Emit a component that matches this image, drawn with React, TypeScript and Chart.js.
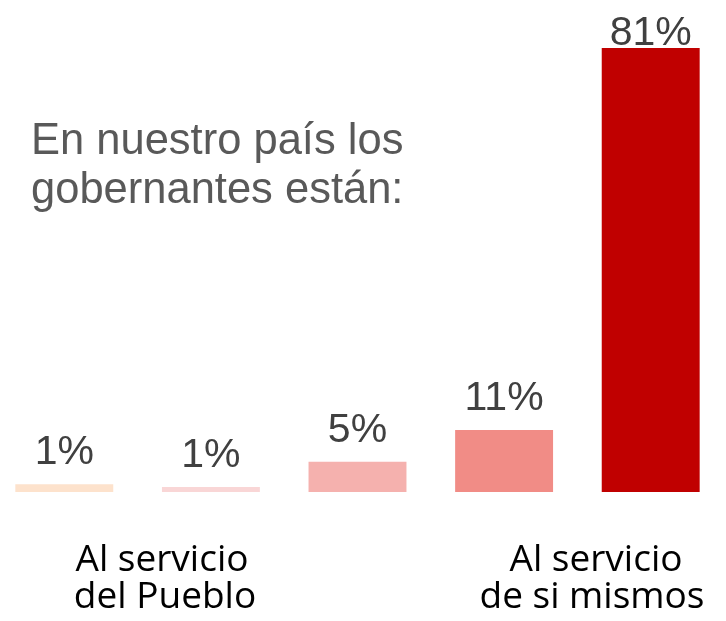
import React, { useEffect, useRef } from "react";
import { Chart, registerables } from "chart.js";

Chart.register(...registerables);

const categories = ["c1", "c2", "c3", "c4", "c5"];
const values = [1.4, 0.9, 5.5, 11.3, 81];
const valueLabels = ["1%", "1%", "5%", "11%", "81%"];
const barColors = ["#FDE2CC", "#F9D6D6", "#F5B1AE", "#F18C86", "#C00000"];
const titleLines = ["En nuestro país los", "gobernantes están:"];
const leftGroupLines = ["Al servicio", "del Pueblo"];
const rightGroupLines = ["Al servicio", "de si mismos"];

const OFFSET_X = 9;

const textPlugin = {
  id: "textPlugin",
  afterDatasetsDraw(chart: any) {
    const ctx = chart.ctx as CanvasRenderingContext2D;
    ctx.save();
    // value labels
    const meta = chart.getDatasetMeta(0);
    ctx.font = "41px 'Liberation Sans', Arial, sans-serif";
    ctx.fillStyle = "#404040";
    ctx.textAlign = "center";
    ctx.textBaseline = "alphabetic";
    meta.data.forEach((bar: any, i: number) => {
      const y = Math.max(bar.y - 20, 45);
      ctx.fillText(valueLabels[i], bar.x, y);
    });
    // title
    ctx.fillStyle = "#595959";
    ctx.textAlign = "left";
    ctx.font = "43.5px 'Liberation Sans', Arial, sans-serif";
    ctx.fillText(titleLines[0], 31 + OFFSET_X, 154);
    ctx.fillText(titleLines[1], 31 + OFFSET_X, 203);
    // group labels
    ctx.fillStyle = "#000000";
    ctx.textAlign = "center";
    ctx.font = "37px 'Open Sans', 'DejaVu Sans', sans-serif";
    ctx.fillText(leftGroupLines[0], 162 + OFFSET_X, 571);
    ctx.fillText(leftGroupLines[1], 165 + OFFSET_X, 608);
    ctx.fillText(rightGroupLines[0], 596 + OFFSET_X, 571);
    ctx.fillText(rightGroupLines[1], 592 + OFFSET_X, 608);
    ctx.restore();
  },
};

export default function App() {
  const ref = useRef<HTMLCanvasElement>(null);
  useEffect(() => {
    if (!ref.current) return;
    const chart = new Chart(ref.current, {
      type: "bar",
      data: {
        labels: categories,
        datasets: [
          {
            data: values,
            backgroundColor: barColors,
            borderWidth: 0,
            barPercentage: 0.668,
            categoryPercentage: 1,
          },
        ],
      },
      options: {
        responsive: false,
        animation: false,
        layout: { padding: { top: 48, bottom: 129, left: 0, right: 0 } },
        plugins: { legend: { display: false }, tooltip: { enabled: false } },
        scales: {
          x: { display: false },
          y: { display: false, min: 0, max: 81 },
        },
      },
      plugins: [textPlugin],
    });
    return () => chart.destroy();
  }, []);
  return (
    <div style={{ position: "absolute", left: -OFFSET_X, top: 0, width: 733, height: 621 }}>
      <canvas ref={ref} width={733} height={621} style={{ width: 733, height: 621 }} />
    </div>
  );
}
